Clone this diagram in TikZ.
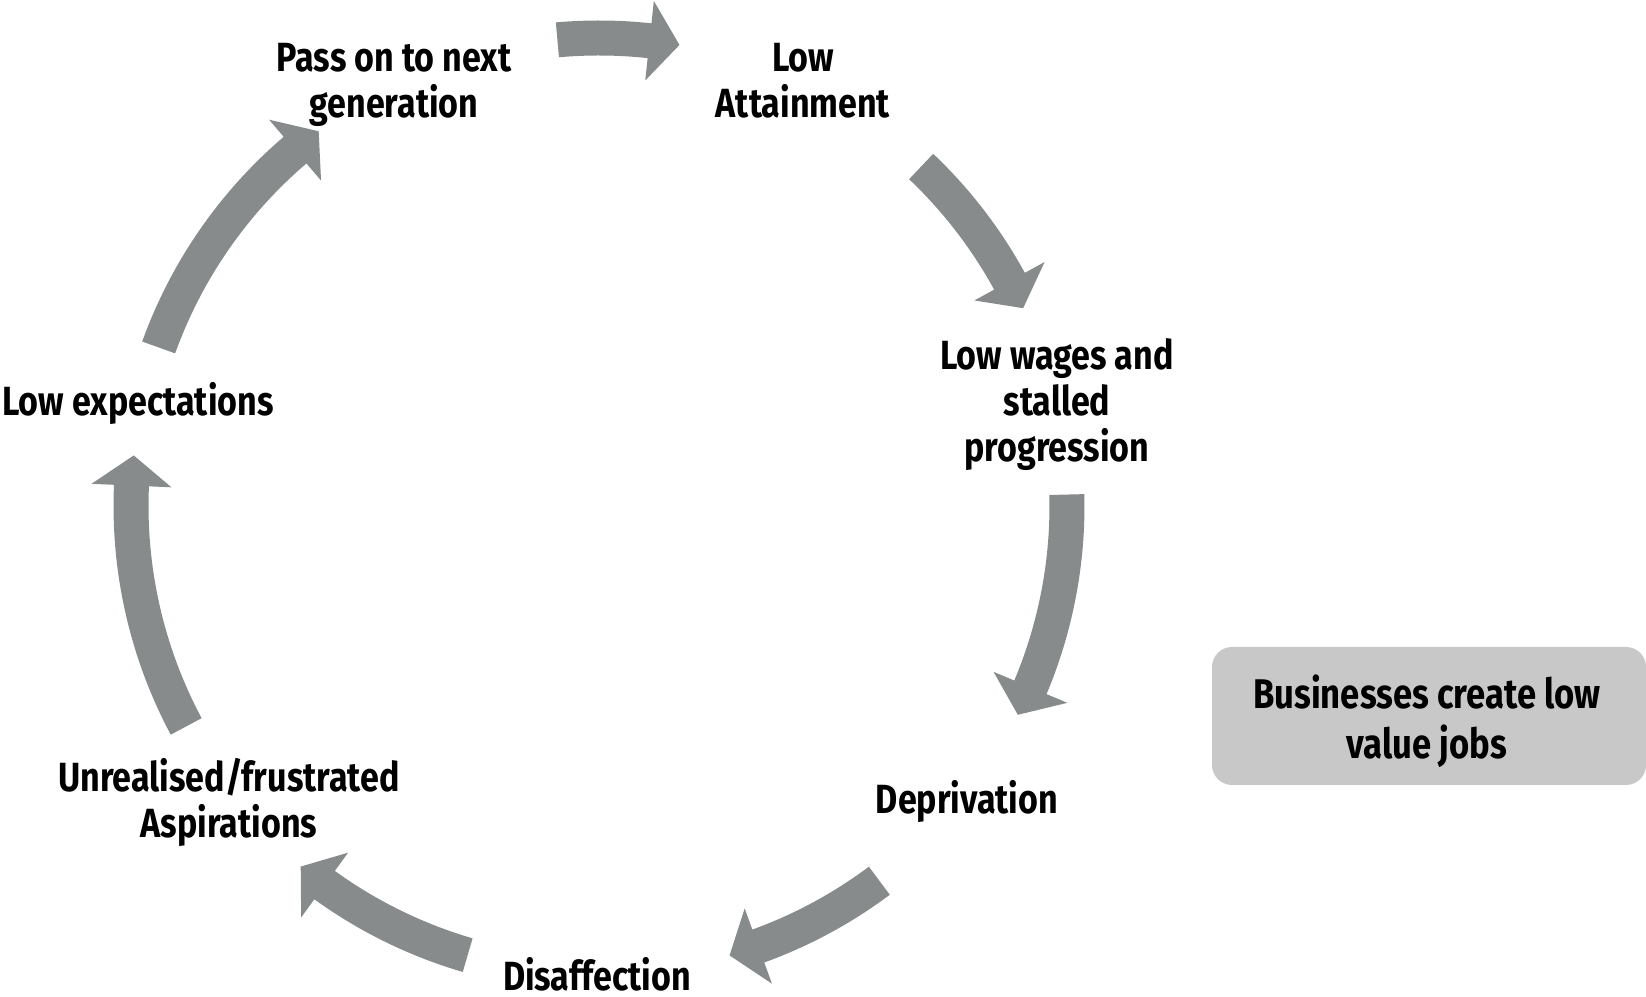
\documentclass[tikz,border=0pt]{standalone}
\usepackage{fontspec}
\setmainfont[FakeStretch=0.835]{Fira Sans}
\usetikzlibrary{calc}

\definecolor{arrowgrey}{RGB}{136,139,139}
\definecolor{boxgrey}{RGB}{200,200,200}

% one block arrow on the cycle: #1 = tail angle, #2 = tip angle
\newcommand{\cycarrow}[2]{%
  \pgfmathsetmacro{\hb}{#2+3.7}%
  \fill[arrowgrey] (#1:4.855) arc[start angle=#1, end angle=\hb, radius=4.855]
    -- (\hb:5.08) -- (#2:4.68) -- (\hb:4.28) -- (\hb:4.505)
    arc[start angle=\hb, end angle=#1, radius=4.505] -- cycle;}

\begin{document}
\begin{tikzpicture}[lbl/.style = {align=center, font=\bfseries\fontsize{11.6}{13.1}\selectfont},
                    bizbox/.style = {rectangle, fill=boxgrey, rounded corners=2mm}]

\useasboundingbox (0,0) rectangle (16.46,9.97);

\begin{scope}[shift={(5.99,4.91)}]
\cycarrow{95.1}{80.1}
\cycarrow{46.5}{25}
\cycarrow{1.4}{-26.5}
\cycarrow{-53.2}{-73.8}
\cycarrow{-106.3}{-129.6}
\cycarrow{208.1}{173.8}
\cycarrow{160.2}{126.8}
\end{scope}

\node[lbl] (pass) at (3.94, 9.12) {Pass on to next\\generation};
\node[lbl] (attain) at (8.03, 9.16) {Low\\Attainment};
\node[lbl] (wages) at (10.57, 5.92) {Low wages and\\stalled\\progression};
\node[lbl] (depriv) at (9.67, 1.95) {Deprivation};
\node[lbl] (disaff) at (5.97, 0.23) {Disaffection};
\node[lbl] (unreal) at (2.29, 1.95) {Unrealised/frustrated\\Aspirations};
\node[lbl] (lowexp) at (1.38, 5.93) {Low expectations};

\fill[bizbox] (12.12,2.12) rectangle (16.46,3.50);
\node[lbl, font=\bfseries\fontsize{11.8}{14.2}\selectfont] (biz) at (14.27, 2.76) {Businesses create low\\value jobs};

\end{tikzpicture}
\end{document}
